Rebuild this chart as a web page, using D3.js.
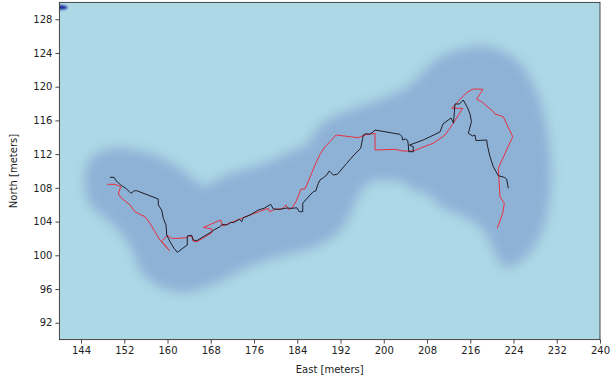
<!DOCTYPE html>
<html>
<head>
<meta charset="utf-8">
<script src="https://cdn.jsdelivr.net/npm/d3@7"></script>
<style>
  html, body { margin: 0; padding: 0; background: #fff; }
  svg text { font-family: "DejaVu Sans", sans-serif; }
</style>
</head>
<body>
<svg id="chart" width="613" height="377"></svg>
<script>
// Axis ticks
const xTicks = [144, 152, 160, 168, 176, 184, 192, 200, 208, 216, 224, 232, 240];
const yTicks = [92, 96, 100, 104, 108, 112, 116, 120, 124, 128];

// Estimated track (black), East / North in meters
const trackE = [149.36,150.10,150.47,151.34,152.45,153.24,153.86,154.30,158.29,158.29,158.92,159.22,159.72,159.85,160.46,161.20,161.81,162.81,163.66,163.66,164.47,164.77,165.40,167.86,168.78,169.71,170.13,170.95,171.69,172.17,173.28,173.72,174.02,175.26,176.79,177.85,179.09,179.57,180.81,182.05,182.97,183.90,184.38,185.01,185.01,186.36,186.97,187.41,187.89,188.21,188.82,189.45,189.93,190.67,191.41,193.14,194.49,195.73,196.10,196.21,196.71,197.32,197.95,198.38,203.00,203.38,203.50,203.98,204.42,204.54,204.61,205.46,205.46,204.77,207.31,210.40,210.96,212.44,212.90,213.18,214.01,214.71,215.49,215.95,216.23,215.64,216.45,216.87,217.06,219.04,219.15,219.65,220.26,221.19,222.30,222.74,223.04];
const trackN = [109.25,109.25,108.85,108.34,107.86,107.35,107.66,107.66,106.68,105.97,105.37,104.39,103.59,102.41,101.61,100.83,100.35,100.83,101.22,102.29,102.37,101.81,101.73,102.68,103.08,103.39,103.68,103.59,103.91,103.87,104.27,103.98,104.46,104.78,105.37,105.57,106.05,105.49,105.46,105.61,105.57,105.64,105.17,105.17,106.17,107.15,107.54,107.63,108.54,108.93,109.20,109.53,110.00,109.53,109.61,110.91,111.90,112.69,113.88,114.27,114.43,114.35,114.59,114.86,114.35,114.07,113.68,113.80,113.64,113.08,112.29,112.29,112.88,113.08,113.68,114.63,115.58,116.29,115.69,117.95,117.95,118.42,117.53,116.76,115.87,114.47,114.15,114.27,113.60,113.68,113.08,111.70,110.51,109.44,109.25,109.02,107.95];

// Reference track (red), East / North in meters
const refE = [148.86,150.28,151.34,150.90,151.52,153.06,153.98,154.91,155.83,156.76,157.68,158.61,160.33,158.89,160.00,160.77,161.94,163.66,163.88,164.47,164.71,165.40,168.17,168.23,166.62,169.84,170.13,175.26,178.64,178.83,179.88,181.12,181.92,182.29,182.97,183.77,184.69,185.43,186.67,187.28,188.21,189.13,190.06,191.17,195.29,196.53,197.46,198.38,198.38,202.08,203.61,205.46,206.70,209.16,211.33,212.86,214.60,212.57,214.71,215.58,216.56,218.36,217.16,218.12,220.26,220.58,222.11,223.85,222.43,221.19,221.50,222.30,222.00,221.00];
const refN = [108.42,108.42,108.14,107.27,106.76,105.97,105.17,104.86,104.58,103.79,102.80,101.81,100.57,101.69,102.35,102.01,102.01,102.09,102.29,102.29,101.69,101.61,102.64,103.12,103.30,104.19,103.47,104.78,105.57,105.17,105.46,105.49,105.97,105.46,105.57,106.36,107.86,107.86,109.73,110.71,111.98,112.88,113.48,114.27,113.95,114.27,114.39,114.47,112.49,112.57,112.37,112.37,112.69,113.29,114.27,115.66,117.44,117.44,118.90,119.40,119.73,119.69,118.51,118.22,117.04,116.76,116.44,114.07,112.10,110.32,106.95,106.17,104.98,103.20];

// Outline of the covered region, East / North in meters
const areaE = [144.74,145.29,147.14,150.28,153.98,158.61,162.31,164.53,166.93,169.71,172.48,175.26,179.51,183.21,185.43,186.91,188.21,190.61,193.75,197.45,201.52,204.85,207.62,210.40,213.73,217.80,221.50,224.64,227.05,228.90,230.20,230.94,230.75,229.83,227.98,225.20,222.43,220.21,218.73,215.95,213.18,210.40,207.99,205.40,203.55,201.15,198.93,196.90,195.23,193.75,191.35,187.28,182.66,177.48,173.04,168.23,163.79,160.09,157.13,154.91,153.43,151.21,148.44,146.03,144.92];
const areaN = [109.17,111.07,112.14,112.73,112.49,111.66,110.36,109.17,108.22,109.17,109.88,110.36,111.31,112.49,112.97,114.27,115.46,116.41,117.24,118.07,119.02,120.20,121.98,123.53,124.36,124.83,124.36,123.17,121.04,118.42,114.87,110.71,107.15,103.95,101.22,99.20,98.61,100.63,102.76,104.19,105.02,105.85,107.27,107.75,108.70,108.81,108.93,108.46,107.03,104.78,102.53,100.98,100.15,99.20,98.02,96.47,95.64,95.88,96.83,98.25,100.63,102.76,104.42,105.73,107.15];
const areaLevel = 0.18;

// Peak cell of the map
const peakE = [140.2];
const peakN = [129.4];
const peakLevel = 1.0;

const W = 613, H = 377;
const margin = { left: 59.4, right: 13, top: 2.4, bottom: 37.4 };
const svg = d3.select("#chart");

const x = d3.scaleLinear().domain([140, 240]).range([margin.left, W - margin.right]);
const y = d3.scaleLinear().domain([90, 130]).range([H - margin.bottom, margin.top]);
const color = d3.scaleLinear().domain([0, 1]).range(["#add8e6", "#00008b"]);

const defs = svg.append("defs");
defs.append("clipPath").attr("id", "plotClip")
  .append("rect")
  .attr("x", x(140)).attr("y", y(130))
  .attr("width", x(240) - x(140)).attr("height", y(90) - y(130));
defs.append("filter").attr("id", "soft")
  .attr("x", "-20%").attr("y", "-20%").attr("width", "140%").attr("height", "140%")
  .append("feGaussianBlur").attr("stdDeviation", 6);
defs.append("filter").attr("id", "softSmall")
  .attr("x", "-200%").attr("y", "-200%").attr("width", "500%").attr("height", "500%")
  .append("feGaussianBlur").attr("stdDeviation", 1.2);

const plot = svg.append("g").attr("clip-path", "url(#plotClip)");

// Map background (level 0)
plot.append("rect")
  .attr("x", x(140)).attr("y", y(130))
  .attr("width", x(240) - x(140)).attr("height", y(90) - y(130))
  .attr("fill", color(0));

// Covered region
const areaPts = areaE.map((e, i) => [e, areaN[i]]);
plot.append("path")
  .datum(areaPts)
  .attr("d", d3.line().x(d => x(d[0])).y(d => y(d[1])).curve(d3.curveCatmullRomClosed.alpha(0.5)))
  .attr("fill", color(areaLevel))
  .attr("filter", "url(#soft)");

// Peak cell
plot.selectAll("ellipse.peak")
  .data(peakE.map((e, i) => [e, peakN[i]]))
  .join("ellipse")
  .attr("class", "peak")
  .attr("cx", d => x(d[0])).attr("cy", d => y(d[1]))
  .attr("rx", x(141.3) - x(140)).attr("ry", y(129) - y(129.25))
  .attr("fill", color(peakLevel * 0.85))
  .attr("filter", "url(#softSmall)");

// Tracks
const line = d3.line().x(d => x(d[0])).y(d => y(d[1]));
plot.append("path")
  .datum(refE.map((e, i) => [e, refN[i]]))
  .attr("d", line)
  .attr("fill", "none")
  .attr("stroke", "#e8313f")
  .attr("stroke-width", 1)
  .attr("stroke-linejoin", "round");
plot.append("path")
  .datum(trackE.map((e, i) => [e, trackN[i]]))
  .attr("d", line)
  .attr("fill", "none")
  .attr("stroke", "#1f1f2a")
  .attr("stroke-width", 1)
  .attr("stroke-linejoin", "round");

// Axes
const xAxis = svg.append("g")
  .attr("transform", `translate(0,${y(90)})`)
  .call(d3.axisBottom(x).tickValues(xTicks).tickSize(4).tickPadding(3).tickFormat(d3.format("d")));
const yAxis = svg.append("g")
  .attr("transform", `translate(${x(140)},0)`)
  .call(d3.axisLeft(y).tickValues(yTicks).tickSize(4).tickPadding(3).tickFormat(d3.format("d")));

[xAxis, yAxis].forEach(g => {
  g.select(".domain").remove();
  g.selectAll(".tick line").attr("stroke", "#333").attr("stroke-width", 0.9);
  g.selectAll(".tick text").attr("fill", "#222").style("font-size", "10px")
    .style("font-family", "'DejaVu Sans', sans-serif");
});

// Frame
svg.append("rect")
  .attr("x", x(140)).attr("y", y(130))
  .attr("width", x(240) - x(140)).attr("height", y(90) - y(130))
  .attr("fill", "none").attr("stroke", "#333").attr("stroke-width", 0.9);

// Axis titles
svg.append("text")
  .attr("x", (x(140) + x(240)) / 2).attr("y", H - 4)
  .attr("text-anchor", "middle")
  .attr("fill", "#222").style("font-size", "10px")
  .text("East [meters]");
svg.append("text")
  .attr("transform", `translate(17,${(y(90) + y(130)) / 2}) rotate(-90)`)
  .attr("text-anchor", "middle")
  .attr("fill", "#222").style("font-size", "10px")
  .text("North [meters]");
</script>
</body>
</html>
